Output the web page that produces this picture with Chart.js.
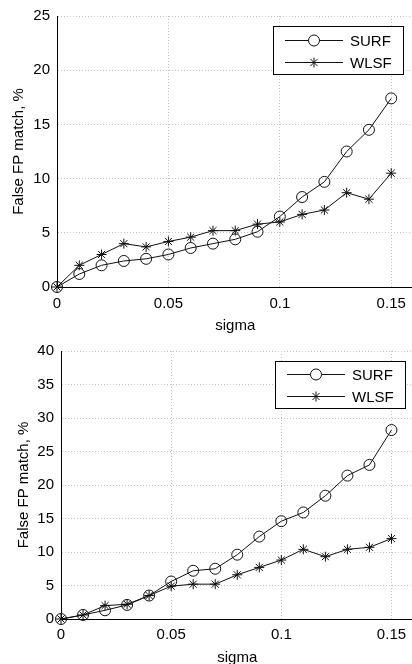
<!DOCTYPE html>
<html>
<head>
<meta charset="utf-8">
<script src="https://cdn.jsdelivr.net/npm/chart.js@4.4.1/dist/chart.umd.min.js"></script>
<style>
  html, body { margin: 0; padding: 0; background: #fff; overflow: hidden; }
  #page { position: relative; width: 412px; height: 664px; overflow: hidden; }
  .plot { position: absolute; left: 0; width: 420px; height: 340px; }
</style>
</head>
<body>
<div id="page">
  <div class="plot" style="top:0"><canvas id="topChart" width="420" height="340"></canvas></div>
  <div class="plot" style="top:330px"><canvas id="bottomChart" width="420" height="340"></canvas></div>
</div>
<script>
// sigma values (x axis), shared by both plots
var sigma = [0, 0.01, 0.02, 0.03, 0.04, 0.05, 0.06, 0.07, 0.08, 0.09, 0.10, 0.11, 0.12, 0.13, 0.14, 0.15];
var seriesNames = ["SURF", "WLSF"];

// upper plot
var surfTop = [0, 1.2, 2.0, 2.4, 2.6, 3.0, 3.6, 4.0, 4.4, 5.1, 6.5, 8.3, 9.7, 12.5, 14.5, 17.4];
var wlsfTop = [0, 2.0, 3.0, 4.0, 3.7, 4.2, 4.6, 5.2, 5.2, 5.8, 6.0, 6.7, 7.1, 8.7, 8.1, 10.5];

// lower plot
var surfBottom = [0, 0.6, 1.3, 2.1, 3.5, 5.6, 7.2, 7.5, 9.6, 12.3, 14.6, 15.9, 18.4, 21.4, 23.0, 28.2];
var wlsfBottom = [0, 0.6, 2.0, 2.2, 3.5, 4.9, 5.2, 5.2, 6.6, 7.7, 8.8, 10.4, 9.3, 10.4, 10.7, 12.0];

var xTicks = [0, 0.05, 0.1, 0.15];
var xMax = 0.16;
var yMaxTop = 25;
var yMaxBottom = 40;

var FONT = "'Liberation Sans', Arial, sans-serif";

function toPoints(xs, ys) {
  var out = [];
  for (var i = 0; i < xs.length; i++) out.push({x: xs[i], y: ys[i]});
  return out;
}

// draws a marker in the legend (circle or asterisk)
function drawMarker(ctx, style, x, y, r) {
  ctx.beginPath();
  if (style === 'circle') {
    ctx.arc(x, y, r, 0, Math.PI * 2);
    ctx.fillStyle = '#fff';
    ctx.fill();
    ctx.stroke();
  } else {
    for (var a = 0; a < 4; a++) {
      var ang = a * Math.PI / 4;
      ctx.moveTo(x - r * Math.cos(ang), y - r * Math.sin(ang));
      ctx.lineTo(x + r * Math.cos(ang), y + r * Math.sin(ang));
    }
    ctx.stroke();
  }
}

// Matlab-like legend box in the upper right corner of the plot
var boxLegend = {
  id: 'boxLegend',
  afterDatasetsDraw: function(chart, args, opts) {
    var ctx = chart.ctx, area = chart.chartArea;
    var x = Math.round(area.right - opts.right - opts.width);
    var y = Math.round(area.top + opts.top);
    ctx.save();
    ctx.fillStyle = '#fff';
    ctx.fillRect(x, y, opts.width, opts.height);
    ctx.strokeStyle = '#000';
    ctx.lineWidth = 1;
    ctx.strokeRect(x + 0.5, y + 0.5, opts.width, opts.height);
    chart.data.datasets.forEach(function(ds, i) {
      var cy = Math.round(y + opts.first + i * 22) + 0.5;
      ctx.strokeStyle = '#111';
      ctx.lineWidth = 1;
      ctx.beginPath();
      ctx.moveTo(x + 12, cy);
      ctx.lineTo(x + 70, cy);
      ctx.stroke();
      drawMarker(ctx, ds.pointStyle, x + 41, cy, ds.pointRadius);
      ctx.fillStyle = '#000';
      ctx.font = '15px ' + FONT;
      ctx.textAlign = 'left';
      ctx.textBaseline = 'middle';
      ctx.fillText(ds.label, x + 77, cy + 1);
    });
    ctx.restore();
  }
};

function makeDatasets(surf, wlsf) {
  return [{
    label: seriesNames[0],
    data: toPoints(sigma, surf),
    clip: false,
    borderColor: '#111',
    borderWidth: 1,
    pointStyle: 'circle',
    pointRadius: 5.5,
    pointBorderWidth: 1,
    pointBorderColor: '#111',
    pointBackgroundColor: 'rgba(0,0,0,0)'
  }, {
    label: seriesNames[1],
    data: toPoints(sigma, wlsf),
    clip: false,
    borderColor: '#111',
    borderWidth: 1,
    pointStyle: 'star',
    pointRadius: 5,
    pointBorderWidth: 1,
    pointBorderColor: '#111',
    pointBackgroundColor: 'rgba(0,0,0,0)'
  }];
}

function makeChart(id, surf, wlsf, yMax, lay) {
  var ctx = document.getElementById(id);
  var config = {
    type: 'line',
    data: { datasets: makeDatasets(surf, wlsf) },
    plugins: [boxLegend],
    options: {
      responsive: false,
      animation: false,
      devicePixelRatio: 1,
      layout: { padding: { top: lay.top, right: lay.right, left: 0, bottom: 0 } },
      plugins: {
        legend: { display: false },
        tooltip: { enabled: false },
        boxLegend: { width: 130, height: lay.legendH, right: lay.legendRight, top: 10, first: lay.legendFirst }
      },
      scales: {
        x: {
          type: 'linear',
          min: 0,
          max: xMax,
          afterBuildTicks: function(scale) {
            scale.ticks = xTicks.map(function(v) { return {value: v}; });
          },
          afterFit: function(scale) { scale.height = lay.xHeight; },
          ticks: {
            includeBounds: false,
            color: '#000',
            padding: lay.xPad,
            maxRotation: 0,
            font: { family: FONT, size: 15 },
            callback: function(v) { return String(v); }
          },
          grid: { color: '#c4c4c4', drawTicks: false },
          border: { display: true, color: '#000', width: 1, dash: [1, 2] },
          title: {
            display: true,
            text: 'sigma',
            color: '#000',
            font: { family: FONT, size: 15 },
            padding: { top: 0, bottom: lay.sigmaPad }
          }
        },
        y: {
          type: 'linear',
          min: 0,
          max: yMax,
          afterFit: function(scale) { scale.width = lay.yWidth; },
          ticks: {
            stepSize: 5,
            color: '#000',
            padding: 7,
            font: { family: FONT, size: 15 }
          },
          grid: { color: '#c4c4c4', drawTicks: false },
          border: { display: true, color: '#000', width: 1, dash: [1, 2] },
          title: {
            display: true,
            text: 'False FP match, %',
            color: '#000',
            font: { family: FONT, size: 15 },
            padding: { top: lay.titlePad, bottom: 0 }
          }
        }
      }
    }
  };
  return new Chart(ctx, config);
}

var topChart = makeChart('topChart', surfTop, wlsfTop, yMaxTop, {
  top: 16, right: 5.7, yWidth: 57, xHeight: 53, xPad: 8, sigmaPad: 5, titlePad: 10,
  legendH: 48, legendRight: 11, legendFirst: 14
});

var bottomChart = makeChart('bottomChart', surfBottom, wlsfBottom, yMaxBottom, {
  top: 21, right: 3.8, yWidth: 61, xHeight: 51, xPad: 7, sigmaPad: 3, titlePad: 15,
  legendH: 47, legendRight: 9, legendFirst: 13
});
</script>
</body>
</html>
